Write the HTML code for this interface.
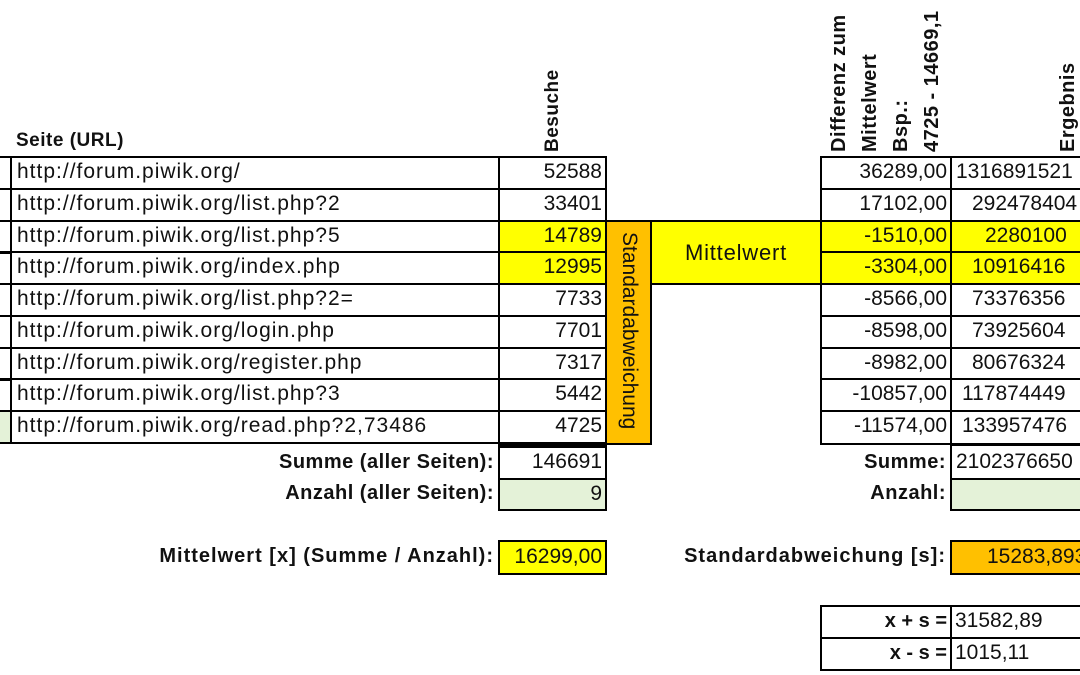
<!DOCTYPE html>
<html><head><meta charset="utf-8"><style>
body{margin:0;width:1080px;height:675px;overflow:hidden;background:#fff;font-family:"Liberation Sans",sans-serif;color:#111;position:relative}
.c{position:absolute;box-sizing:border-box;border:2px solid #000;font-size:21px;line-height:28px;white-space:nowrap;overflow:hidden}
.r{text-align:right;padding-right:3px}
.l{text-align:left;padding-left:4px}
.u{letter-spacing:1px;padding-left:5px}
.y{background:#ffff00}.o{background:#ffc000}.g{background:#e4f2d8}
.t{position:absolute;font-size:20px;white-space:nowrap;letter-spacing:0.5px}
.b{font-weight:bold}
.v{position:absolute;writing-mode:vertical-rl;transform:rotate(180deg);font-weight:bold;font-size:20px;white-space:nowrap;letter-spacing:0.5px}
</style></head><body>
<div class="t b" style="left:16px;top:130px;font-size:19px">Seite (URL)</div>
<div class="v" style="left:540px;top:60px;height:92px;line-height:26px;font-size:19px">Besuche</div>
<div class="v" style="left:824px;top:0;height:152px;line-height:31px">Differenz zum<br>Mittelwert<br>Bsp.:<br>4725 - 14669,1</div>
<div class="v" style="left:1055px;top:40px;height:112px;line-height:26px">Ergebnis</div>

<div class="c" style="left:-4px;top:156px;width:16px;height:34px"></div>
<div class="c" style="left:-4px;top:188px;width:16px;height:34px"></div>
<div class="c" style="left:-4px;top:220px;width:16px;height:34px"></div>
<div class="c" style="left:-4px;top:251px;width:16px;height:34px"></div>
<div class="c" style="left:-4px;top:283px;width:16px;height:34px"></div>
<div class="c" style="left:-4px;top:315px;width:16px;height:34px"></div>
<div class="c" style="left:-4px;top:347px;width:16px;height:34px"></div>
<div class="c" style="left:-4px;top:378px;width:16px;height:34px"></div>
<div class="c g" style="left:-4px;top:410px;width:16px;height:34px"></div>

<div class="c l u" style="left:10px;top:156px;width:490px;height:34px">http://forum.piwik.org/</div>
<div class="c l u" style="left:10px;top:188px;width:490px;height:34px">http://forum.piwik.org/list.php?2</div>
<div class="c l u" style="left:10px;top:220px;width:490px;height:33px">http://forum.piwik.org/list.php?5</div>
<div class="c l u" style="left:10px;top:251px;width:490px;height:34px">http://forum.piwik.org/index.php</div>
<div class="c l u" style="left:10px;top:283px;width:490px;height:34px">http://forum.piwik.org/list.php?2=</div>
<div class="c l u" style="left:10px;top:315px;width:490px;height:34px">http://forum.piwik.org/login.php</div>
<div class="c l u" style="left:10px;top:347px;width:490px;height:33px">http://forum.piwik.org/register.php</div>
<div class="c l u" style="left:10px;top:378px;width:490px;height:34px">http://forum.piwik.org/list.php?3</div>
<div class="c l u" style="left:10px;top:410px;width:490px;height:34px">http://forum.piwik.org/read.php?2,73486</div>

<div class="c r" style="left:498px;top:156px;width:109px;height:34px">52588</div>
<div class="c r" style="left:498px;top:188px;width:109px;height:34px">33401</div>
<div class="c r y" style="left:498px;top:220px;width:109px;height:33px">14789</div>
<div class="c r y" style="left:498px;top:251px;width:109px;height:34px">12995</div>
<div class="c r" style="left:498px;top:283px;width:109px;height:34px">7733</div>
<div class="c r" style="left:498px;top:315px;width:109px;height:34px">7701</div>
<div class="c r" style="left:498px;top:347px;width:109px;height:33px">7317</div>
<div class="c r" style="left:498px;top:378px;width:109px;height:34px">5442</div>
<div class="c r" style="left:498px;top:410px;width:109px;height:35px">4725</div>
<div style="position:absolute;left:498px;top:442px;width:109px;height:5px;background:#000"></div>

<div class="c o" style="left:605px;top:220px;width:47px;height:225px"></div>
<div style="position:absolute;left:617px;top:232px;writing-mode:vertical-rl;font-size:21px;line-height:24px;white-space:nowrap">Standardabweichung</div>

<div class="c y" style="left:650px;top:220px;width:172px;height:65px;text-align:center;line-height:61px;font-size:22px;letter-spacing:0.8px">Mittelwert</div>

<div class="c r" style="left:820px;top:156px;width:132px;height:34px">36289,00</div>
<div class="c r" style="left:820px;top:188px;width:132px;height:34px">17102,00</div>
<div class="c r y" style="left:820px;top:220px;width:132px;height:33px">-1510,00</div>
<div class="c r y" style="left:820px;top:251px;width:132px;height:34px">-3304,00</div>
<div class="c r" style="left:820px;top:283px;width:132px;height:34px">-8566,00</div>
<div class="c r" style="left:820px;top:315px;width:132px;height:34px">-8598,00</div>
<div class="c r" style="left:820px;top:347px;width:132px;height:33px">-8982,00</div>
<div class="c r" style="left:820px;top:378px;width:132px;height:34px">-10857,00</div>
<div class="c r" style="left:820px;top:410px;width:132px;height:35px">-11574,00</div>

<div class="c l" style="left:950px;top:156px;width:140px;height:34px">1316891521</div>
<div class="c l" style="left:950px;top:188px;width:140px;height:34px;padding-left:20px">292478404</div>
<div class="c l y" style="left:950px;top:220px;width:140px;height:33px;padding-left:33px">2280100</div>
<div class="c l y" style="left:950px;top:251px;width:140px;height:34px;padding-left:20px">10916416</div>
<div class="c l" style="left:950px;top:283px;width:140px;height:34px;padding-left:20px">73376356</div>
<div class="c l" style="left:950px;top:315px;width:140px;height:34px;padding-left:20px">73925604</div>
<div class="c l" style="left:950px;top:347px;width:140px;height:33px;padding-left:20px">80676324</div>
<div class="c l" style="left:950px;top:378px;width:140px;height:34px;padding-left:10px">117874449</div>
<div class="c l" style="left:950px;top:410px;width:140px;height:35px;padding-left:10px">133957476</div>

<div class="t b" style="right:586px;top:451px">Summe (aller Seiten):</div>
<div class="t b" style="right:586px;top:482px">Anzahl (aller Seiten):</div>
<div class="c r" style="left:498px;top:446px;width:109px;height:34px">146691</div>
<div class="c r g" style="left:498px;top:478px;width:109px;height:33px">9</div>
<div class="t b" style="right:586px;top:545px;letter-spacing:1px">Mittelwert [x] (Summe / Anzahl):</div>
<div class="c r y" style="left:498px;top:540px;width:109px;height:35px;line-height:30px">16299,00</div>

<div class="t b" style="right:134px;top:451px">Summe:</div>
<div class="t b" style="right:134px;top:482px">Anzahl:</div>
<div class="c l" style="left:950px;top:444px;width:140px;height:36px;line-height:31px">2102376650</div>
<div class="c g" style="left:950px;top:478px;width:140px;height:33px"></div>
<div class="t b" style="right:134px;top:545px;letter-spacing:1px">Standardabweichung [s]:</div>
<div class="c l o" style="left:950px;top:540px;width:140px;height:35px;line-height:30px;padding-left:35px">15283,893</div>

<div class="c r b" style="left:820px;top:605px;width:132px;height:34px;font-size:20px">x + s =</div>
<div class="c r b" style="left:820px;top:637px;width:132px;height:34px;font-size:20px">x - s =</div>
<div class="c l" style="left:950px;top:605px;width:140px;height:34px;padding-left:3px">31582,89</div>
<div class="c l" style="left:950px;top:637px;width:140px;height:34px;padding-left:3px">1015,11</div>
</body></html>
